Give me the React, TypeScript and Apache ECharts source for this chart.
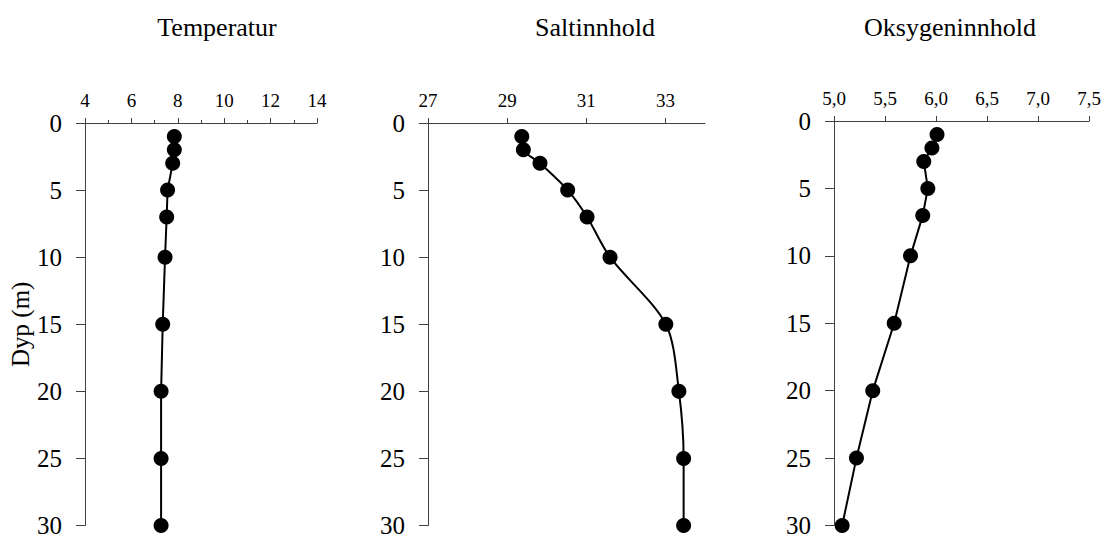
import React, { useEffect, useRef } from "react";
import * as echarts from "echarts";

const depths = [1, 2, 3, 5, 7, 10, 15, 20, 25, 30];
const temperature = [7.85, 7.85, 7.78, 7.56, 7.52, 7.45, 7.35, 7.28, 7.28, 7.28];
const salinity = [29.37, 29.41, 29.83, 30.53, 31.02, 31.6, 33.01, 33.34, 33.46, 33.46];
const oxygen = [6.01, 5.96, 5.88, 5.92, 5.87, 5.75, 5.59, 5.38, 5.22, 5.08];
const titles = ["Temperatur", "Saltinnhold", "Oksygeninnhold"];
const yAxisName = "Dyp (m)";
const salinityTicks = [27, 29, 31, 33];

const FONT = "'Liberation Serif', 'Times New Roman', serif";
const AXIS_COLOR = "#404040";

export default function App() {
  const ref = useRef<HTMLDivElement>(null);
  useEffect(() => {
    if (!ref.current) return;
    const chart = echarts.init(ref.current, undefined, { renderer: "svg" });
    const grids = [
      { left: 85, top: 123, width: 232, height: 405 },
      { left: 428, top: 123, width: 277, height: 405 },
      { left: 834, top: 121, width: 255, height: 407 },
    ];
    const xBase = {
      type: "value",
      position: "top",
      axisLine: { show: true, onZero: false, lineStyle: { color: AXIS_COLOR, width: 1 } },
      axisTick: { show: true, inside: false, length: 5, lineStyle: { color: AXIS_COLOR } },
      axisLabel: { color: "#000", fontFamily: FONT, fontSize: 19, margin: 13 },
      splitLine: { show: false },
    };
    const xAxes = [
      {
        ...xBase,
        gridIndex: 0,
        min: 4,
        max: 14,
        interval: 2,
        minorTick: { show: true, splitNumber: 2, length: 3, lineStyle: { color: AXIS_COLOR } },
      },
      {
        ...xBase,
        gridIndex: 1,
        min: 27,
        max: 34,
        axisTick: { ...xBase.axisTick, customValues: salinityTicks },
        axisLabel: { ...xBase.axisLabel, customValues: salinityTicks },
      },
      {
        ...xBase,
        gridIndex: 2,
        min: 5,
        max: 7.5,
        interval: 0.5,
        axisLabel: {
          ...xBase.axisLabel,
          formatter: (v: number) => v.toFixed(1).replace(".", ","),
        },
      },
    ];
    const yAxes = [0, 1, 2].map((i) => ({
      type: "value",
      gridIndex: i,
      inverse: true,
      min: 0,
      max: 30,
      interval: 5,
      name: i === 0 ? yAxisName : "",
      nameLocation: "middle",
      nameRotate: 90,
      nameGap: 50,
      nameTextStyle: { color: "#000", fontFamily: FONT, fontSize: 25 },
      axisLine: { show: true, onZero: false, lineStyle: { color: AXIS_COLOR, width: 1 } },
      axisTick: { show: true, inside: false, length: 9, lineStyle: { color: AXIS_COLOR } },
      axisLabel: { color: "#000", fontFamily: FONT, fontSize: 25, margin: 23 },
      splitLine: { show: false },
    }));
    const seriesData = [temperature, salinity, oxygen];
    const series = seriesData.map((vals, i) => ({
      type: "line",
      xAxisIndex: i,
      yAxisIndex: i,
      data: vals.map((v, k) => [v, depths[k]]),
      symbol: "circle",
      symbolSize: 15,
      smooth: i === 1 ? 0.3 : false,
      itemStyle: { color: "#000" },
      lineStyle: { color: "#000", width: 2 },
      z: 3,
    }));
    const titleX = [217, 595, 950];
    chart.setOption({
      animation: false,
      backgroundColor: "#fff",
      grid: grids,
      xAxis: xAxes,
      yAxis: yAxes,
      series,
      graphic: titles.map((t, i) => ({
        type: "text",
        x: titleX[i],
        y: 27,
        style: {
          text: t,
          fill: "#000",
          font: `26px ${FONT}`,
          textAlign: "center",
          textVerticalAlign: "middle",
        },
      })),
    });
    return () => chart.dispose();
  }, []);
  return (
    <div
      ref={ref}
      style={{ position: "fixed", left: 0, top: 0, width: 1106, height: 538 }}
    />
  );
}
